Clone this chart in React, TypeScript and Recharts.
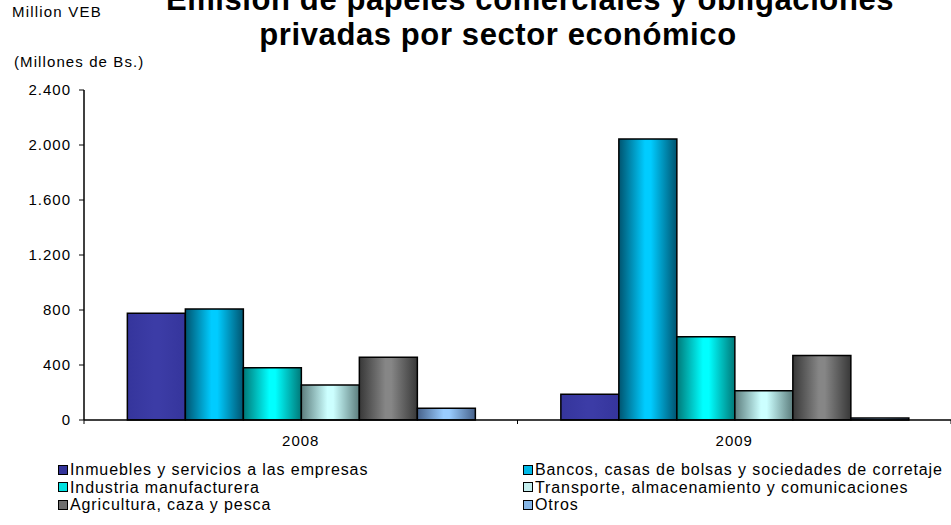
import React from 'react';
import { BarChart, Bar, XAxis, YAxis } from 'recharts';

const years = ['2008', '2009'];
const inmuebles = [776, 187];
const bancos = [807, 2044];
const industria = [380, 606];
const transporte = [255, 213];
const agricultura = [456, 470];
const otros = [85, 15];
const yTicks = [0, 400, 800, 1200, 1600, 2000, 2400];

const seriesKeys = ['inmuebles', 'bancos', 'industria', 'transporte', 'agricultura', 'otros'];
const seriesNames = [
  'Inmuebles y servicios a las empresas',
  'Bancos, casas de bolsas y sociedades de corretaje',
  'Industria manufacturera',
  'Transporte, almacenamiento y comunicaciones',
  'Agricultura, caza y pesca',
  'Otros',
];
const seriesValues = [inmuebles, bancos, industria, transporte, agricultura, otros];

const data = years.map((year, i) => {
  const row: Record<string, string | number> = { year };
  seriesKeys.forEach((k, s) => {
    row[k] = seriesValues[s][i];
  });
  return row;
});

// edge colour, centre colour of the cylinder-like gradient
const shades: Record<string, [string, string]> = {
  inmuebles: ['#35359c', '#3c3ca6'],
  bancos: ['#005470', '#00ccff'],
  industria: ['#007878', '#00ffff'],
  transporte: ['#5c7d7d', '#ccffff'],
  agricultura: ['#383838', '#868686'],
  otros: ['#46618a', '#99ccff'],
};
const swatch: Record<string, string> = {
  inmuebles: '#333399',
  bancos: '#00b8e6',
  industria: '#00e0e0',
  transporte: '#c4eeee',
  agricultura: '#6e6e6e',
  otros: '#86b6e6',
};

const font = 'Arial, "Liberation Sans", sans-serif';

const fmt = (v: number) => v.toLocaleString('de-DE');

function YearTick(props: any) {
  const { x, y, payload, index } = props;
  const half = payload && payload.offset ? payload.offset : 216.75;
  return (
    <g>
      {index === 0 && <line x1={x - half} y1={y} x2={x - half} y2={y + 4} stroke="#000" />}
      <line x1={x + half} y1={y} x2={x + half} y2={y + 4} stroke="#000" />
      <text x={x} y={y + 26} textAnchor="middle" fontSize={15} fontFamily={font} fill="#000" style={{ letterSpacing: 1 }}>
        {payload.value}
      </text>
    </g>
  );
}

export default function App() {
  const titleStyle: React.CSSProperties = {
    position: 'absolute',
    left: 0,
    textAlign: 'center',
    fontSize: 31,
    fontWeight: 700,
    letterSpacing: 0.6,
    lineHeight: '31px',
    whiteSpace: 'nowrap',
  };
  return (
    <div style={{ position: 'absolute', left: 0, top: 0, width: 951, height: 525, background: '#fff', overflow: 'hidden', fontFamily: font }}>
      <div style={{ ...titleStyle, width: 1060, top: -16 }}>Emisión de papeles comerciales y obligaciones</div>
      <div style={{ ...titleStyle, width: 996, top: 19 }}>privadas por sector económico</div>
      <div style={{ position: 'absolute', left: 12, top: 3, fontSize: 15, letterSpacing: 1.2 }}>Million VEB</div>
      <div style={{ position: 'absolute', left: 14, top: 53, fontSize: 15, letterSpacing: 1.1 }}>(Millones de Bs.)</div>

      <BarChart
        width={951}
        height={525}
        data={data}
        margin={{ top: 90, right: 0, bottom: 75, left: 0 }}
        barCategoryGap="10%"
        barGap={0}
      >
        <defs>
          {seriesKeys.map((k) => (
            <linearGradient key={k} id={`g-${k}`} x1="0" y1="0" x2="1" y2="0">
              <stop offset="0%" stopColor={shades[k][0]} />
              <stop offset="45%" stopColor={shades[k][1]} />
              <stop offset="55%" stopColor={shades[k][1]} />
              <stop offset="100%" stopColor={shades[k][0]} />
            </linearGradient>
          ))}
        </defs>
        <XAxis
          dataKey="year"
          height={30}
          axisLine={{ stroke: '#000', strokeWidth: 1.5 }}
          tickLine={false}
          tickSize={0}
          tickMargin={0}
          tick={<YearTick />}
          interval={0}
        />
        <YAxis
          width={84}
          domain={[0, 2400]}
          ticks={yTicks}
          tickFormatter={fmt}
          axisLine={{ stroke: '#000', strokeWidth: 1.5 }}
          tickLine={{ stroke: '#000' }}
          tickSize={5}
          tickMargin={8}
          tick={{ fill: '#000', fontSize: 15, fontFamily: font, style: { letterSpacing: 1 } } as any}
        />
        {seriesKeys.map((k, s) => (
          <Bar
            key={k}
            dataKey={k}
            name={seriesNames[s]}
            fill={`url(#g-${k})`}
            stroke="#000"
            strokeWidth={1.5}
            isAnimationActive={false}
          />
        ))}
      </BarChart>

      <div style={{ position: 'absolute', left: 58, top: 461, width: 900, fontSize: 16, letterSpacing: 0.9, lineHeight: '17.5px' }}>
        {seriesKeys.map((k, s) => (
          <div
            key={k}
            style={{
              position: 'absolute',
              left: s % 2 === 0 ? 0 : 465,
              top: Math.floor(s / 2) * 17.5,
              whiteSpace: 'nowrap',
              display: 'flex',
              alignItems: 'center',
            }}
          >
            <span style={{ display: 'inline-block', width: 8, height: 8, background: swatch[k], border: '1px solid #000', marginRight: 2 }} />
            <span>{seriesNames[s]}</span>
          </div>
        ))}
      </div>
    </div>
  );
}
